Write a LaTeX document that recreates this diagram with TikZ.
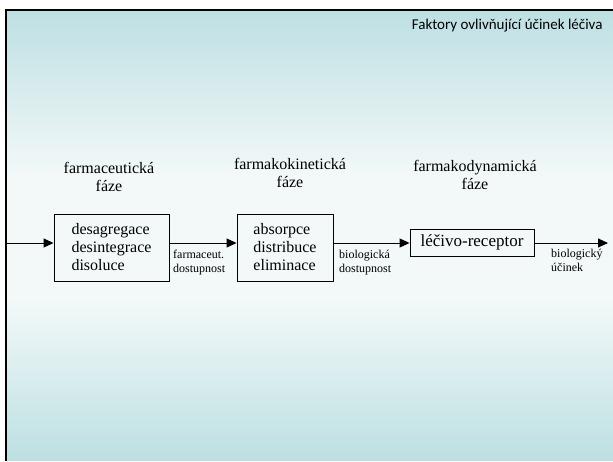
\documentclass[tikz,border=0pt]{standalone}
\usepackage{fontspec}
\setmainfont{Liberation Serif}
\newfontfamily\titlefont{Carlito}
\usepackage{xcolor}
\usetikzlibrary{arrows.meta}

\begin{document}
\begin{tikzpicture}[x=1pt,y=-1pt,
  phase/.style={align=center,inner sep=0pt,font=\fontsize{16}{18}\selectfont},
  stage/.style={draw,line width=0.9pt,align=left,inner sep=0pt,font=\fontsize{16}{18}\selectfont},
  avail/.style={anchor=north west,align=left,inner sep=0pt,font=\fontsize{12}{14}\selectfont},
  flow/.style={-{Triangle[length=10pt,width=9pt]},line width=1pt}]

\pgfmathsetmacro{\FLOWY}{243}
\pgfmathsetmacro{\TOPL}{175}  % light band starts
\pgfmathsetmacro{\BOTL}{300}  % light band ends

% slide background (blue - light - blue), RGB 189,224,227 -> 243,249,249
\useasboundingbox (0,0) rectangle (613,461);
\foreach \i in {0,...,89}{
  \pgfmathsetmacro{\ytop}{10+5*\i}
  \pgfmathsetmacro{\yc}{\ytop+2.5}
  \pgfmathsetmacro{\t}{\yc<\TOPL ? (\TOPL-\yc)/(\TOPL-10) : (\yc>\BOTL ? (\yc-\BOTL)/(461-\BOTL) : 0)}
  \pgfmathtruncatemacro{\R}{243-54*\t}
  \pgfmathtruncatemacro{\G}{249-25*\t}
  \pgfmathtruncatemacro{\B}{249-22*\t}
  \definecolor{strip}{RGB}{\R,\G,\B}
  \fill[fill=strip] (6,\ytop) rectangle (613,\ytop+5.6);
}
\draw[line width=2pt] (6,461)--(6,10)--(613,10);  % frame

% title
\node (title) [anchor=east,font=\titlefont\fontsize{15}{17}\selectfont] at (606,26) {Faktory ovlivňující účinek léčiva};

% phase labels
\node (farmaceut) [phase] at (109,177) {farmaceutická\\fáze};
\node (kinetic) [phase] at (290,173) {farmakokinetická\\fáze};
\node (dynamic) [phase] at (475,175) {farmakodynamická\\fáze};

% boxes
\node (liberation) [stage,minimum width=115,minimum height=67] at (111.5,247.5) {desagregace\\desintegrace\\disoluce};
\node (adme) [stage,minimum width=96,minimum height=67] at (285,247.5) {absorpce\\distribuce\\eliminace};
\node (receptor) [stage,minimum width=124,minimum height=27,font=\fontsize{17}{19}\selectfont] at (472,242.5) {léčivo-receptor};

% flow line
\coordinate (start) at (6,\FLOWY);
\coordinate (effect) at (608,\FLOWY);
\draw[flow] (start)--(start -| liberation.west);
\draw[flow] (liberation.east |- start)--(adme.west |- start);
\draw[flow] (adme.east |- start)--(receptor.west |- start);
\draw[flow] (receptor.east |- start)--(effect);

% text annotations
\node (pharmavail) [avail] at (173,250) {farmaceut.\\dostupnost};
\node (bioavail) [avail] at (339,250) {biologická\\dostupnost};
\node (bioeffect) [avail] at (551,249) {biologický\\účinek};
\end{tikzpicture}
\end{document}
